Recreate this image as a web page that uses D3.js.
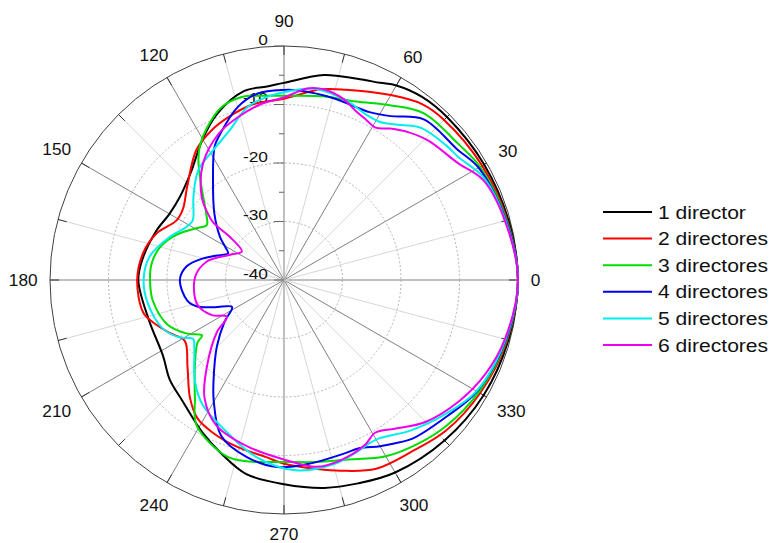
<!DOCTYPE html>
<html>
<head>
<meta charset="utf-8">
<script src="https://cdn.jsdelivr.net/npm/d3@7"></script>
<style>
  html, body { margin: 0; padding: 0; background: #fff; }
  svg { display: block; }
  text { font-family: "Liberation Sans", Arial, sans-serif; }
</style>
</head>
<body>
<svg id="chart" width="774" height="543"></svg>
<script>
// ---------------- DATA (angle in degrees, level in dB) ----------------
const seriesNames = ["1 director", "2 directores", "3 directores", "4 directores", "5 directores", "6 directores"];
const seriesColors = ["#000000", "#ff0000", "#00dd00", "#0000ee", "#00eeee", "#ee00ee"];

const dir1 = [[0,0],[15,-0.3],[30,-0.5],[45,-0.6],[53,-0.8],[60,-1.6],[64,-2.5],[70,-3.4],[79,-4.3],[90,-6.3],[95,-6.8],[102,-7.0],[112,-9.4],[120,-12.2],[131,-15.7],[141,-17.2],[150,-17.4],[159,-16.6],[171,-15.6],[180,-15.1],[196,-15.9],[212,-15.6],[221,-14.1],[230,-13.0],[242,-10.4],[250,-8.5],[259,-6.2],[270,-5.1],[281,-3.8],[290,-3.0],[300,-2.0],[315,-1.2],[330,-0.6],[345,-0.3]];

const dir2 = [[0,0],[15,-0.5],[30,-0.9],[45,-1.3],[52,-1.8],[60,-3.5],[72,-5.8],[79,-6.8],[90,-9.0],[100,-9.5],[109,-10.6],[116,-11.6],[124,-13.2],[136,-17.0],[145,-18.9],[151,-19.0],[160,-16.8],[169,-15.5],[180,-14.9],[193,-15.3],[198,-16.5],[205,-18.5],[211.5,-20.1],[222,-17.8],[231.5,-14.2],[238,-12.1],[245,-11.2],[254,-10.4],[264,-9.6],[270,-8.6],[280,-7.2],[286.5,-6.0],[296,-4.1],[307,-3.4],[317,-2.2],[330,-1.3],[345,-0.5]];

const dir3 = [[0,0],[15,-0.6],[30,-1.3],[38,-2.2],[50,-2.8],[58.5,-5.0],[68,-7.1],[78,-7.9],[90,-8.5],[98,-8.2],[103,-7.9],[110,-8.6],[117,-10.9],[122,-12.9],[125.5,-14.8],[131.5,-18.7],[139.5,-22.5],[144.6,-23.8],[149.4,-22.6],[157,-20.1],[165,-18.1],[173,-17.2],[180,-17.1],[189,-17.3],[201,-18.7],[209,-21.1],[214,-23.1],[216,-21.7],[223,-19.2],[233,-14.7],[239,-11.0],[252,-8.3],[259,-8.4],[270,-8.9],[280,-8.4],[289,-7.5],[300,-5.2],[309.5,-3.8],[318,-2.7],[330,-1.6],[345,-0.6]];

const dir4 = [[0,0],[15,-0.7],[30,-1.6],[37,-2.9],[49,-3.6],[57,-6.6],[63,-7.8],[68,-8.0],[74,-7.8],[86,-7.5],[90,-7.5],[98,-7.8],[105,-9.4],[114,-12.9],[117.5,-14.3],[125.5,-19.1],[136.5,-23.6],[146,-26.8],[151,-28.6],[154.5,-29.4],[160.5,-27.6],[165,-25.7],[172,-23.2],[180,-22.2],[192,-23.1],[197,-24.5],[201.5,-27.3],[207.5,-30.0],[215,-27.6],[224.6,-23.9],[235,-19.0],[240,-16.0],[248,-11.3],[258,-9.1],[268,-8.0],[278,-8.3],[289.5,-8.6],[294,-8.5],[300,-7.2],[304,-6.3],[309,-5.1],[320,-3.7],[330,-1.9],[345,-0.7]];

const dir5 = [[0,0],[15,-0.8],[27,-1.6],[35,-3.5],[40,-4.0],[48,-5.0],[53,-6.8],[58.7,-8.4],[64,-8.4],[71,-7.5],[81,-6.9],[86,-7.4],[90,-7.9],[95.5,-8.6],[102,-9.8],[110,-12.8],[118.5,-14.7],[128,-16.2],[137.5,-19.0],[145,-21.1],[147.5,-21.4],[151.5,-21.0],[159,-19.2],[170,-16.7],[180,-16.0],[190,-16.4],[202,-17.7],[209,-19.7],[213,-21.5],[217,-20.8],[228.5,-17.0],[237,-14.5],[249.5,-12.2],[261,-9.4],[273.5,-7.4],[285.5,-7.4],[292,-8.0],[300,-8.5],[310,-6.4],[320,-4.2],[330,-2.0],[345,-0.8]];

const dir6 = [[0,0],[15,-0.9],[26.6,-1.9],[34,-4.2],[44,-5.7],[50,-7.0],[55,-8.4],[59,-9.6],[63,-9.2],[67,-8.6],[72,-7.4],[78,-6.7],[83,-7.0],[90,-8.8],[97,-9.6],[106,-11.1],[114,-12.6],[124.7,-15.7],[134.7,-20.0],[139,-22.8],[141,-24.5],[141.5,-28.2],[146,-31.3],[155,-29.8],[166.7,-26.4],[178,-24.8],[195.8,-24.6],[206,-26.3],[212.7,-28.4],[217.8,-25.5],[227.4,-20.7],[236,-15.7],[245,-12.6],[257.4,-10.9],[270.7,-9.2],[279.7,-7.6],[287.4,-7.7],[296.2,-8.6],[300.8,-9.6],[306.7,-8.3],[314.7,-5.8],[325.3,-3.6],[335,-2.0],[345,-0.9]];

const seriesData = [dir1, dir2, dir3, dir4, dir5, dir6];

const radialTicks = [0, -10, -20, -30, -40];
const angleTicks = [0, 30, 60, 90, 120, 150, 180, 210, 240, 270, 300, 330];
// ---------------------------------------------------------------------

const svg = d3.select("#chart");
const cx = 284, cy = 280, R = 234;

const g = svg.append("g").attr("transform", `translate(${cx},${cy})`);
const r = d3.scaleLinear().domain([-40, 0]).range([0, R]);
const rad = d => d * Math.PI / 180;

// spokes
const spokes = d3.range(0, 360, 15);
g.selectAll("line.spoke").data(spokes).join("line")
  .attr("x1", 0).attr("y1", 0)
  .attr("x2", d => R * Math.cos(rad(d)))
  .attr("y2", d => -R * Math.sin(rad(d)))
  .attr("stroke", d => d % 30 === 0 ? "#808080" : "#d6d6d6")
  .attr("stroke-width", 1);

// dotted circles
g.selectAll("circle.grid").data([-10, -20, -30]).join("circle")
  .attr("r", d => r(d)).attr("fill", "none")
  .attr("stroke", "#b4b4b4").attr("stroke-dasharray", "2,2");

// outer circle
g.append("circle").attr("r", R).attr("fill", "none").attr("stroke", "#404040").attr("stroke-width", 1);

// outer ticks
g.selectAll("line.otick").data(spokes).join("line")
  .attr("x1", d => (R - 9) * Math.cos(rad(d)))
  .attr("y1", d => -(R - 9) * Math.sin(rad(d)))
  .attr("x2", d => R * Math.cos(rad(d)))
  .attr("y2", d => -R * Math.sin(rad(d)))
  .attr("stroke", "#333");

// radial axis ticks
g.selectAll("line.rtick").data(d3.range(-40, 1, 5)).join("line")
  .attr("x1", d => d % 10 === 0 ? -10 : -5).attr("x2", 0)
  .attr("y1", d => -r(d)).attr("y2", d => -r(d))
  .attr("stroke", "#666");

// radial labels
g.selectAll("text.rlab").data(radialTicks).join("text")
  .attr("transform", d => `translate(-16,${-r(d) - 1.5}) scale(1.12,1)`)
  .attr("text-anchor", "end")
  .attr("font-size", 15.5).attr("fill", "#111")
  .text(d => d);

// angle labels
g.selectAll("text.alab").data(angleTicks).join("text")
  .attr("transform", d => {
    const s = String(d);
    const hw = s.length * 4.6;
    const a = rad(d);
    const rr = 247 + hw * Math.abs(Math.cos(a)) + 7 * Math.abs(Math.sin(a)) + (d === 90 ? 5 : 0);
    return `translate(${rr * Math.cos(a)},${-rr * Math.sin(a)}) scale(1.08,1)`;
  })
  .attr("text-anchor", "middle").attr("dy", "0.36em")
  .attr("font-size", 16).attr("fill", "#111")
  .text(d => d);

// curves
const line = d3.lineRadial()
  .angle(d => rad(90 - d[0]))
  .radius(d => r(d[1]))
  .curve(d3.curveCatmullRomClosed.alpha(0.5));

g.selectAll("path.series").data(seriesData).join("path")
  .attr("d", d => line(d))
  .attr("fill", "none")
  .attr("stroke", (d, i) => seriesColors[i])
  .attr("stroke-width", 2);

// legend
const lg = svg.append("g").attr("transform", "translate(603,212)");
const rows = lg.selectAll("g").data(seriesNames).join("g")
  .attr("transform", (d, i) => `translate(0,${i * 26.6})`);
rows.append("line").attr("x1", 0).attr("x2", 49).attr("y1", 0).attr("y2", 0)
  .attr("stroke", (d, i) => seriesColors[i]).attr("stroke-width", 2);
rows.append("text")
  .attr("transform", "translate(55,0) scale(1.14,1)")
  .attr("dy", "0.36em").attr("font-size", 18.5).attr("fill", "#111")
  .text(d => d);
</script>
</body>
</html>
